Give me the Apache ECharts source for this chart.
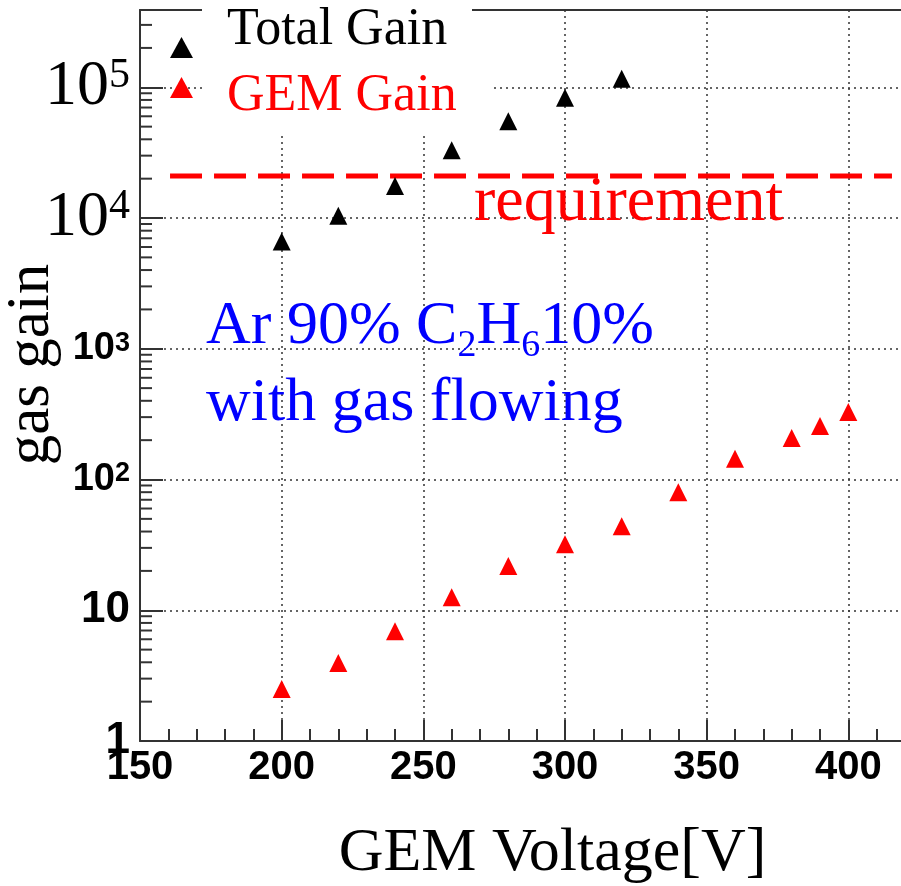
<!DOCTYPE html>
<html>
<head>
<meta charset="utf-8">
<script src="https://cdn.jsdelivr.net/npm/echarts@6/dist/echarts.min.js"></script>
<style>
  html, body { margin: 0; padding: 0; background: #fff; }
  #chart { width: 901px; height: 886px; }
</style>
</head>
<body>
<div id="chart"></div>
<script>
// GEM voltage scan: total gain and GEM-only gain, Ar 90% / C2H6 10%
const voltTotal = [200, 220, 240, 260, 280, 300, 320];
const totalGain = [6600, 10400, 17600, 33000, 55000, 83000, 116000];

const voltGem = [200, 220, 240, 260, 280, 300, 320, 340, 360, 380, 390, 400];
const gemGain = [2.5, 3.95, 6.9, 12.6, 21.8, 32, 44, 80, 144, 208, 257, 329];

// required total gain and the voltage span of its dashed guide
const reqGain = 21000;
const reqSpan = [160.6, 415.4];

// y-axis decade labels: [value, mantissa text, exponent text, style]
const yLabels = [
  [1e5, '10', '5', 'serif'],
  [1e4, '10', '4', 'serif'],
  [1e3, '10', '3', 'sans'],
  [1e2, '10', '2', 'sans'],
  [10, '10', '', 'plain'],
  [1, '1', '', 'plain']
];

const X_MIN = 150;
const X_MAX = 450;
const Y_MAX = 390000;
const MINOR_PX = 12;   // length of the short log ticks, in pixels

// minor log ticks 2..9 x 10^k
const minorY = [];
for (let k = 0; k <= 5; k++) {
  for (let m = 2; m <= 9; m++) {
    const v = m * Math.pow(10, k);
    if (v < Y_MAX) minorY.push(v);
  }
}

const SERIF = 'Liberation Serif';
const SANS = 'Liberation Sans';
const AX = '#333';
const dotted = { type: [2, 4], color: AX, width: 1.5 };

function yFormatter(v) {
  for (const [val, base, exp, kind] of yLabels) {
    if (Math.abs(v - val) < val * 1e-6) {
      if (kind === 'serif') return '{big|' + base + '}{bsup|' + exp + '}';
      if (kind === 'sans') return '{mid|' + base + '}{msup|' + exp + '}';
      return '{ten|' + base + '}';
    }
  }
  return '';
}

// fixed decorations: legend-area masks and the text annotations
const baseGraphics = [
  { id: 'mask1', type: 'rect', z: 1, shape: { x: 202, y: 0, width: 270, height: 136 }, style: { fill: '#fff' } },
  { id: 'mask2', type: 'rect', z: 1, shape: { x: 472, y: 13, width: 21, height: 123 }, style: { fill: '#fff' } },
  {
    id: 'legTotal', type: 'text', z: 5, x: 227, y: 30.5,
    style: { text: 'Total Gain', fontFamily: SERIF, fontSize: 52, fill: '#000', verticalAlign: 'middle', align: 'left' }
  },
  {
    id: 'legGem', type: 'text', z: 5, x: 227, y: 96,
    style: { text: 'GEM Gain', fontFamily: SERIF, fontSize: 52, fill: '#ff0000', verticalAlign: 'middle', align: 'left' }
  },
  {
    id: 'reqText', type: 'text', z: 5, x: 474, y: 203.4,
    style: { text: 'requirement', fontFamily: SERIF, fontSize: 64, fill: '#ff0000', verticalAlign: 'middle', align: 'left' }
  },
  {
    id: 'gasText', type: 'text', z: 5, x: 206, y: 288,
    style: {
      text: '{n|Ar 90% C}{s|2}{n|H}{s|6}{n|10%}\n{n|with gas flowing}',
      verticalAlign: 'top', align: 'left',
      rich: {
        n: { fontFamily: SERIF, fontSize: 62, lineHeight: 77, fill: '#0000ff' },
        s: { fontFamily: SERIF, fontSize: 38, lineHeight: 30, fill: '#0000ff', verticalAlign: 'bottom' }
      }
    }
  }
];

const chart = echarts.init(document.getElementById('chart'), null, { renderer: 'canvas' });

const option = {
  animation: false,
  backgroundColor: '#fff',
  grid: { left: 140, top: 10, right: -89, bottom: 145, containLabel: false, outerBoundsMode: 'none' },
  legend: [
    {
      data: [{ name: 'Total Gain', icon: 'triangle' }],
      left: 170, top: 37, orient: 'vertical', padding: 0,
      itemWidth: 23, itemHeight: 21, selectedMode: false,
      formatter: () => '', textStyle: { fontSize: 1 }
    },
    {
      data: [{ name: 'GEM Gain', icon: 'triangle' }],
      left: 170, top: 77, orient: 'vertical', padding: 0,
      itemWidth: 23, itemHeight: 21, selectedMode: false,
      formatter: () => '', textStyle: { fontSize: 1 }
    }
  ],
  xAxis: [
    {
      type: 'value', min: X_MIN, max: X_MAX, interval: 50, position: 'bottom',
      axisLine: { lineStyle: { color: AX, width: 2 } },
      axisTick: { inside: true, length: 21, lineStyle: { color: AX, width: 2 } },
      minorTick: { show: true, splitNumber: 5, length: 12, lineStyle: { color: AX, width: 2 } },
      axisLabel: { margin: 7, fontFamily: SANS, fontWeight: 'bold', fontSize: 40, color: '#000', showMaxLabel: false },
      splitLine: { show: true, lineStyle: dotted },
      name: 'GEM Voltage[V]', nameLocation: 'middle', nameGap: 82, nameMoveOverlap: false,
      nameTextStyle: { fontFamily: SERIF, fontSize: 62, color: '#000', padding: [0, 25, 0, 0] }
    },
    {
      type: 'value', min: X_MIN, max: X_MAX, position: 'top',
      axisLine: { lineStyle: { color: AX, width: 2 } },
      axisTick: { show: false }, axisLabel: { show: false }, splitLine: { show: false }
    }
  ],
  yAxis: [
    {
      type: 'log', logBase: 10, min: 1, max: Y_MAX, position: 'left',
      axisLine: { lineStyle: { color: AX, width: 2 } },
      axisTick: { inside: true, length: 23, lineStyle: { color: AX, width: 2 } },
      axisLabel: {
        margin: 10, formatter: yFormatter,
        rich: {
          big: { fontFamily: SERIF, fontSize: 64, lineHeight: 64, color: '#000' },
          bsup: { fontFamily: SERIF, fontSize: 42, lineHeight: 42, color: '#000', verticalAlign: 'top' },
          mid: { fontFamily: SANS, fontWeight: 'bold', fontSize: 38, lineHeight: 38, color: '#000' },
          msup: { fontFamily: SANS, fontWeight: 'bold', fontSize: 27, lineHeight: 27, color: '#000', verticalAlign: 'top' },
          ten: { fontFamily: SANS, fontWeight: 'bold', fontSize: 44, lineHeight: 44, color: '#000' }
        }
      },
      splitLine: { show: true, lineStyle: dotted },
      name: 'gas gain', nameLocation: 'middle', nameGap: 78, nameRotate: 90, nameMoveOverlap: false,
      nameTextStyle: { fontFamily: SERIF, fontSize: 61, color: '#000', padding: [0, 0, 0, 22] }
    }
  ],
  graphic: { elements: baseGraphics },
  series: [
    {
      name: 'requirement', type: 'line', xAxisIndex: 0, yAxisIndex: 0,
      data: reqSpan.map(v => [v, reqGain]),
      symbol: 'none', silent: true, z: 1,
      lineStyle: { color: '#ff0000', width: 5, type: [32, 12] }
    },
    {
      name: 'Total Gain', type: 'scatter', xAxisIndex: 0, yAxisIndex: 0,
      data: voltTotal.map((v, i) => [v, totalGain[i]]),
      symbol: 'triangle', symbolSize: 18, itemStyle: { color: '#000', opacity: 1 }, z: 3
    },
    {
      name: 'GEM Gain', type: 'scatter', xAxisIndex: 0, yAxisIndex: 0,
      data: voltGem.map((v, i) => [v, gemGain[i]]),
      symbol: 'triangle', symbolSize: 18, itemStyle: { color: '#ff0000', opacity: 1 }, z: 3
    }
  ]
};

chart.setOption(option);

// short 2..9 ticks on the log axis: positions come from the chart's own y scale
const tickGraphics = minorY.map((v, i) => {
  const p = chart.convertToPixel({ xAxisIndex: 0, yAxisIndex: 0 }, [X_MIN, v]);
  return {
    id: 'minor' + i, type: 'line', z: 10,
    shape: { x1: p[0], y1: p[1], x2: p[0] + MINOR_PX, y2: p[1] },
    style: { stroke: AX, lineWidth: 2 }
  };
});

chart.setOption({ graphic: { elements: baseGraphics.concat(tickGraphics) } });
</script>
</body>
</html>
